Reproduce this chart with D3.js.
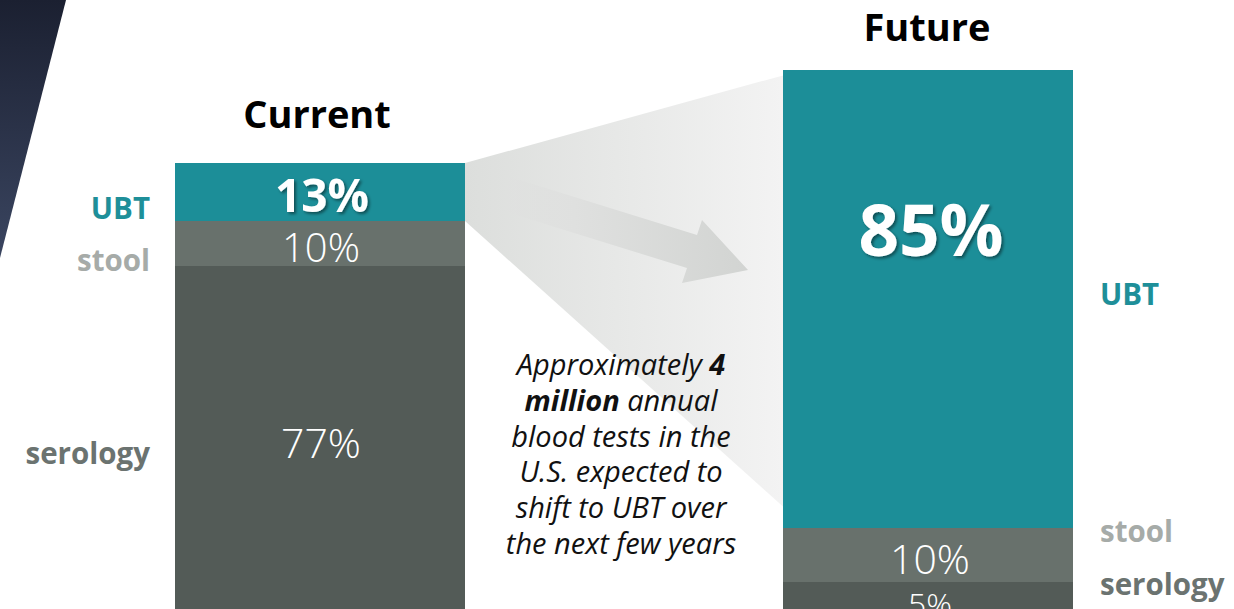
<!DOCTYPE html>
<html><head><meta charset="utf-8">
<script src="https://cdn.jsdelivr.net/npm/d3@7/dist/d3.min.js"></script>
<style>html,body{margin:0;padding:0;background:#fff;overflow:hidden}svg{display:block}</style>
</head><body><svg id="c" width="1234" height="609"></svg>
<script>
const categories = ["UBT", "stool", "serology"];
const currentValues = [13, 10, 77];
const futureValues = [85, 10, 5];
const barTitles = ["Current", "Future"];
const noteLines = [
  [["Approximately ", false], ["4", true]],
  [["million", true], [" annual", false]],
  [["blood tests in the", false]],
  [["U.S. expected to", false]],
  [["shift to UBT over", false]],
  [["the next few years", false]]
];

const W = 1234, H = 609;
const svg = d3.select("#c");
const FONT = "'Open Sans', 'Noto Sans', sans-serif";
const colors = d3.scaleOrdinal().domain(categories).range(["#1c8e98", "#68716c", "#535b57"]);
const labelColors = d3.scaleOrdinal().domain(categories).range(["#1e8f99", "#a6aba8", "#6b7370"]);

const defs = svg.append("defs");
const dk = defs.append("linearGradient").attr("id", "dk").attr("x1", 0).attr("y1", 0).attr("x2", 0).attr("y2", 1);
dk.append("stop").attr("offset", 0).attr("stop-color", "#1b2031");
dk.append("stop").attr("offset", 1).attr("stop-color", "#3a4560");
const fg = defs.append("linearGradient").attr("id", "fg").attr("x1", 0).attr("y1", 0).attr("x2", 1).attr("y2", 0);
fg.append("stop").attr("offset", 0).attr("stop-color", "#dcdedc");
fg.append("stop").attr("offset", 1).attr("stop-color", "#f3f3f3");
const ag = defs.append("linearGradient").attr("id", "ag").attr("x1", 0).attr("y1", 0).attr("x2", 1).attr("y2", 0);
ag.append("stop").attr("offset", 0).attr("stop-color", "#dfe0df").attr("stop-opacity", 0.3);
ag.append("stop").attr("offset", 0.3).attr("stop-color", "#dfe0df");
ag.append("stop").attr("offset", 1).attr("stop-color", "#d2d4d2");
const sh = defs.append("filter").attr("id", "sh").attr("x", "-20%").attr("y", "-20%").attr("width", "150%").attr("height", "150%");
sh.append("feDropShadow").attr("dx", 2).attr("dy", 2).attr("stdDeviation", 1.5).attr("flood-color", "#000").attr("flood-opacity", 0.45);

// dark corner shape
svg.append("path").attr("d", "M0,0 L66,0 L0,258 Z").attr("fill", "url(#dk)");

const barW = 290;
const barX = { "Current": 175, "Future": 783 };
const yCur = d3.scaleLinear().domain([0, 100]).range([H, 163]);
const yFut = d3.scaleLinear().domain([0, 100]).range([H, 70]);

function stackOf(vals) {
  let acc = 0; const out = [];
  for (let i = vals.length - 1; i >= 0; i--) { out.push({ cat: categories[i], v: vals[i], y0: acc, y1: acc + vals[i] }); acc += vals[i]; }
  return out;
}
const curStack = stackOf(currentValues);
const futStack = stackOf(futureValues);

// funnel
const cU = curStack.find(d => d.cat === "UBT");
const fx0 = barX.Current + barW, fx1 = barX.Future;
svg.append("path")
  .attr("d", `M${fx0},${yCur(cU.y1)} L${fx1},${yFut(99)} L${fx1},${yFut(19)} L${fx0},${yCur(cU.y0)} Z`)
  .attr("fill", "url(#fg)");
// arrow
svg.append("path")
  .attr("d", "M510,177 L697,235 L702,220 L748,270 L682,283 L687,268 L500,210 Z")
  .attr("fill", "url(#ag)");

function drawBar(title, stack, y) {
  const g = svg.append("g").attr("shape-rendering", "crispEdges");
  g.selectAll("rect").data(stack).join("rect")
    .attr("x", barX[title]).attr("width", barW)
    .attr("y", d => Math.round(y(d.y1))).attr("height", d => Math.round(y(d.y0)) - Math.round(y(d.y1)))
    .attr("fill", d => colors(d.cat));
}
drawBar("Current", curStack, yCur);
drawBar("Future", futStack, yFut);

// titles
svg.append("text").attr("x", 317).attr("y", 128).attr("text-anchor", "middle")
  .attr("font-family", FONT).attr("font-weight", 700).attr("font-size", 38).attr("fill", "#000").text(barTitles[0]);
svg.append("text").attr("x", 927).attr("y", 41).attr("text-anchor", "middle")
  .attr("font-family", FONT).attr("font-weight", 700).attr("font-size", 38).attr("fill", "#000").text(barTitles[1]);

// value labels
function valLabel(xc, yc, txt, size, bold) {
  svg.append("text").attr("x", xc).attr("y", yc).attr("text-anchor", "middle").attr("dominant-baseline", "central")
    .attr("font-family", FONT).attr("font-weight", bold ? 700 : 300).attr("font-size", size).attr("fill", "#fff")
    .attr("filter", bold ? "url(#sh)" : null).text(txt);
}
const cx1 = barX.Current + barW / 2, cx2 = barX.Future + barW / 2;
valLabel(cx1 + 2, 194, currentValues[0] + "%", 46, true);
valLabel(cx1 + 1, (yCur(curStack[1].y0) + yCur(curStack[1].y1)) / 2 + 3, currentValues[1] + "%", 40, false);
valLabel(cx1 + 1, 442, currentValues[2] + "%", 41, false);
valLabel(cx2 + 3, 228, futureValues[0] + "%", 71, true);
valLabel(cx2 + 2, (yFut(futStack[1].y0) + yFut(futStack[1].y1)) / 2 + 3, futureValues[1] + "%", 41, false);
valLabel(cx2 + 2, 603, futureValues[2] + "%", 32, false);

// category labels
const leftY = [207, 259, 452];
const rightY = [293, 530, 583];
categories.forEach((c, i) => {
  svg.append("text").attr("x", 150).attr("y", leftY[i]).attr("text-anchor", "end").attr("dominant-baseline", "central")
    .attr("font-family", FONT).attr("font-weight", 700).attr("font-size", 29.5).attr("fill", labelColors(c)).text(c);
  svg.append("text").attr("x", 1100).attr("y", rightY[i]).attr("text-anchor", "start").attr("dominant-baseline", "central")
    .attr("font-family", FONT).attr("font-weight", 700).attr("font-size", 29.5).attr("fill", labelColors(c)).text(c);
});

// note text
const note = svg.append("text").attr("text-anchor", "middle").attr("font-family", FONT)
  .attr("font-style", "italic").attr("font-size", 29).attr("fill", "#111");
noteLines.forEach((line, i) => {
  const t = note.append("tspan").attr("x", 621).attr("y", 375 + i * 35.8);
  line.forEach(([s, b]) => {
    t.append("tspan").attr("font-weight", b ? 700 : 400).text(s);
  });
});
</script></body></html>
